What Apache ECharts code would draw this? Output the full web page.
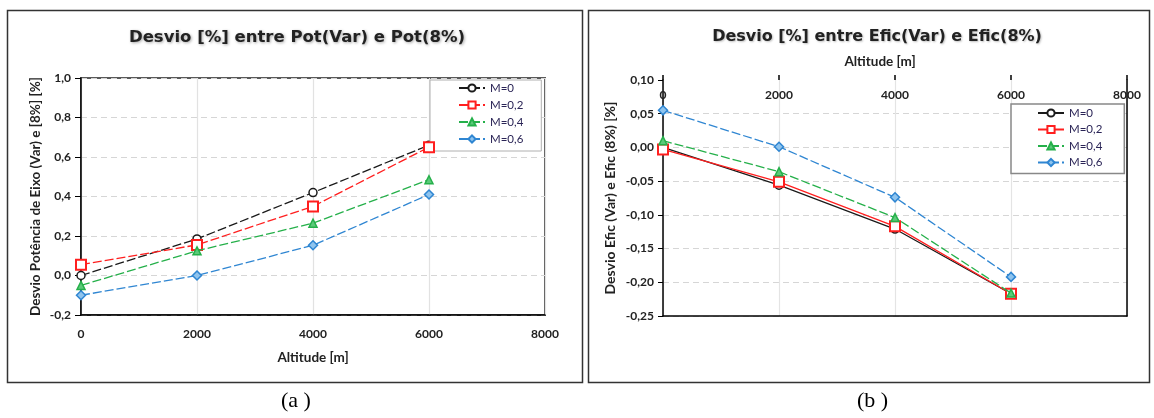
<!DOCTYPE html>
<html>
<head>
<meta charset="utf-8">
<script src="https://cdn.jsdelivr.net/npm/echarts@6/dist/echarts.min.js"></script>
<style>
html,body{margin:0;padding:0;background:#fff;}
#c{width:1154px;height:418px;}
</style>
</head>
<body>
<div id="c"></div>
<script>
// ---- data ----
const altitudes = [0, 2000, 4000, 6000];
const seriesNames = ['M=0', 'M=0,2', 'M=0,4', 'M=0,6'];
// (a) Desvio Pot(Var) vs Pot(8%)
const potM0  = [0.00, 0.185, 0.42, 0.66];
const potM02 = [0.055, 0.155, 0.35, 0.65];
const potM04 = [-0.05, 0.125, 0.265, 0.485];
const potM06 = [-0.10, 0.00, 0.153, 0.41];
// (b) Desvio Efic(Var) vs Efic(8%)
const eficM0  = [0.000, -0.056, -0.121, -0.217];
const eficM02 = [-0.003, -0.051, -0.117, -0.217];
const eficM04 = [0.010, -0.036, -0.104, -0.216];
const eficM06 = [0.055, 0.001, -0.074, -0.192];

const titleA = 'Desvio [%] entre Pot(Var) e Pot(8%)';
const titleB = 'Desvio [%] entre Efic(Var) e Efic(8%)';
const xName = 'Altitude [m]';
const yNameA = 'Desvio Potência de Eixo (Var) e [8%] [%]';
const yNameB = 'Desvio Efic (Var) e Efic (8%) [%]';

// ---- styles ----
const colors = ['#1a1a1a', '#ff1f1f', '#25b04a', '#2f86d2'];
const fills = ['#ffffff', '#ffffff', '#5cc97a', '#8fc4ee'];
const symbols = ['circle', 'rect', 'triangle', 'diamond'];
const symSizes = [8, 10, 8, 9];
const lblFont = {fontFamily: 'Lato', fontWeight: 'bold', fontSize: 12, color: '#222'};
const nameFont = {fontFamily: 'Lato', fontWeight: 'bold', fontSize: 13.5, color: '#222'};

function mk(name, data, i, xi, yi, dashed) {
  return {
    name: name, type: 'line', xAxisIndex: xi, yAxisIndex: yi,
    data: altitudes.map((a, k) => [a, data[k]]),
    symbol: symbols[i], symbolSize: symSizes[i],
    lineStyle: {color: colors[i], width: 1.3, type: dashed ? [9, 3] : 'solid'},
    itemStyle: {color: fills[i], borderColor: colors[i], borderWidth: i === 1 ? 2 : 1.5},
    emphasis: {disabled: true}, animation: false, z: 3 + i
  };
}

const chart = echarts.init(document.getElementById('c'), null, {renderer: 'canvas'});
const nA = seriesNames;
const nB = seriesNames.map(s => s + ' ');
const intFmt = v => String(Math.round(v));

const option = {
  animation: false,
  backgroundColor: '#fff',
  title: [
    {text: titleA, left: 292, top: 24, textAlign: 'center',
     textStyle: {fontFamily: 'DejaVu Sans', fontWeight: 'bold', fontSize: 16.5, color: '#222',
       textShadowColor: 'rgba(0,0,0,0.35)', textShadowBlur: 3, textShadowOffsetX: 1, textShadowOffsetY: 1}},
    {text: titleB, left: 872, top: 24, textAlign: 'center',
     textStyle: {fontFamily: 'DejaVu Sans', fontWeight: 'bold', fontSize: 16, color: '#222',
       textShadowColor: 'rgba(0,0,0,0.25)', textShadowBlur: 2, textShadowOffsetX: 1, textShadowOffsetY: 1}}
  ],
  legend: [
    {data: nA, left: 430, top: 80, orient: 'vertical', itemWidth: 26, itemHeight: 9, itemGap: 5,
     padding: [2, 18, 6, 28], borderColor: '#b0b0b0', borderWidth: 1, backgroundColor: '#fff',
     textStyle: {fontFamily: 'Lato', fontSize: 11.5, color: '#2a2456', lineHeight: 11}, selectedMode: false},
    {data: nB, left: 1011, top: 104, orient: 'vertical', itemWidth: 26, itemHeight: 9, itemGap: 4.5,
     padding: [3, 22, 5, 26], borderColor: '#888', borderWidth: 1.5, backgroundColor: '#fff',
     formatter: n => n.trim(),
     textStyle: {fontFamily: 'Lato', fontSize: 11.5, color: '#2a2456', lineHeight: 11}, selectedMode: false}
  ],
  grid: [
    {left: 81, top: 78, width: 464, height: 237, show: true, borderColor: '#5a5a5a', borderWidth: 2, containLabel: false},
    {left: 663, top: 80, width: 464, height: 236, show: false, containLabel: false}
  ],
  xAxis: [
    {type: 'value', gridIndex: 0, min: 0, max: 8000, interval: 2000, position: 'bottom',
     name: xName, nameLocation: 'middle', nameGap: 36, nameTextStyle: nameFont,
     axisLine: {show: true, onZero: false, lineStyle: {color: '#000', width: 1.5}},
     axisTick: {show: false},
     axisLabel: Object.assign({margin: 13, formatter: intFmt}, lblFont),
     splitLine: {show: true, lineStyle: {color: '#e2e2e2', width: 1.2}}},
    {type: 'value', gridIndex: 1, min: 0, max: 8000, interval: 2000, position: 'top',
     name: xName, nameLocation: 'middle', nameGap: 11,
     nameTextStyle: Object.assign({padding: [0, 30, 0, 0]}, nameFont),
     axisLine: {show: false, onZero: false},
     axisTick: {show: true, inside: false, length: 5, lineStyle: {color: '#000', width: 1.5}},
     axisLabel: Object.assign({inside: true, margin: 9, formatter: intFmt}, lblFont),
     splitLine: {show: true, lineStyle: {color: '#e4e4e4', width: 1.2}}},
    {type: 'value', gridIndex: 1, min: 0, max: 8000, position: 'bottom',
     axisLine: {show: true, onZero: false, lineStyle: {color: '#000', width: 1.5}},
     axisTick: {show: false}, axisLabel: {show: false}, splitLine: {show: false}}
  ],
  yAxis: [
    {type: 'value', gridIndex: 0, min: -0.2, max: 1.0, interval: 0.2,
     name: yNameA, nameLocation: 'middle', nameGap: 38, nameRotate: 90, nameTextStyle: nameFont,
     axisLine: {show: true, onZero: false, lineStyle: {color: '#000', width: 1.5}},
     axisTick: {show: true, length: 6, lineStyle: {color: '#000'}},
     axisLabel: Object.assign({margin: 10, formatter: v => v.toFixed(1).replace('.', ',')}, lblFont),
     splitLine: {show: true, lineStyle: {color: '#d6d6d6', type: [6, 4]}}},
    {type: 'value', gridIndex: 1, min: -0.25, max: 0.10, interval: 0.05,
     name: yNameB, nameLocation: 'middle', nameGap: 46, nameRotate: 90,
     nameTextStyle: Object.assign({}, nameFont, {fontSize: 14}),
     axisLine: {show: true, onZero: false, lineStyle: {color: '#000', width: 1.5}},
     axisTick: {show: true, length: 5, lineStyle: {color: '#000'}},
     axisLabel: Object.assign({margin: 9, formatter: v => v.toFixed(2).replace('.', ',')}, lblFont),
     splitLine: {show: true, showMaxLine: false, lineStyle: {color: '#d6d6d6', type: [6, 4]}}},
    {type: 'value', gridIndex: 1, min: -0.25, max: 0.10, position: 'right',
     axisLine: {show: true, onZero: false, lineStyle: {color: '#000', width: 1.5}},
     axisTick: {show: false}, axisLabel: {show: false}, splitLine: {show: false}}
  ],
  series: [
    mk(nA[0], potM0, 0, 0, 0, true),
    mk(nA[1], potM02, 1, 0, 0, true),
    mk(nA[2], potM04, 2, 0, 0, true),
    mk(nA[3], potM06, 3, 0, 0, true),
    mk(nB[0], eficM0, 0, 1, 1, false),
    mk(nB[1], eficM02, 1, 1, 1, false),
    mk(nB[2], eficM04, 2, 1, 1, true),
    mk(nB[3], eficM06, 3, 1, 1, true)
  ],
  graphic: [
    {type: 'rect', shape: {x: 7.5, y: 10.5, width: 575, height: 372}, style: {fill: null, stroke: '#333', lineWidth: 1.5}, silent: true},
    {type: 'rect', shape: {x: 588.5, y: 10.5, width: 561, height: 372}, style: {fill: null, stroke: '#333', lineWidth: 1.5}, silent: true},
    {type: 'text', left: 281, top: 390, style: {text: '(a )', font: '22px "Liberation Serif"', fill: '#000'}, silent: true},
    {type: 'text', left: 857, top: 390, style: {text: '(b )', font: '22px "Liberation Serif"', fill: '#000'}, silent: true}
  ]
};
chart.setOption(option);
</script>
</body>
</html>
